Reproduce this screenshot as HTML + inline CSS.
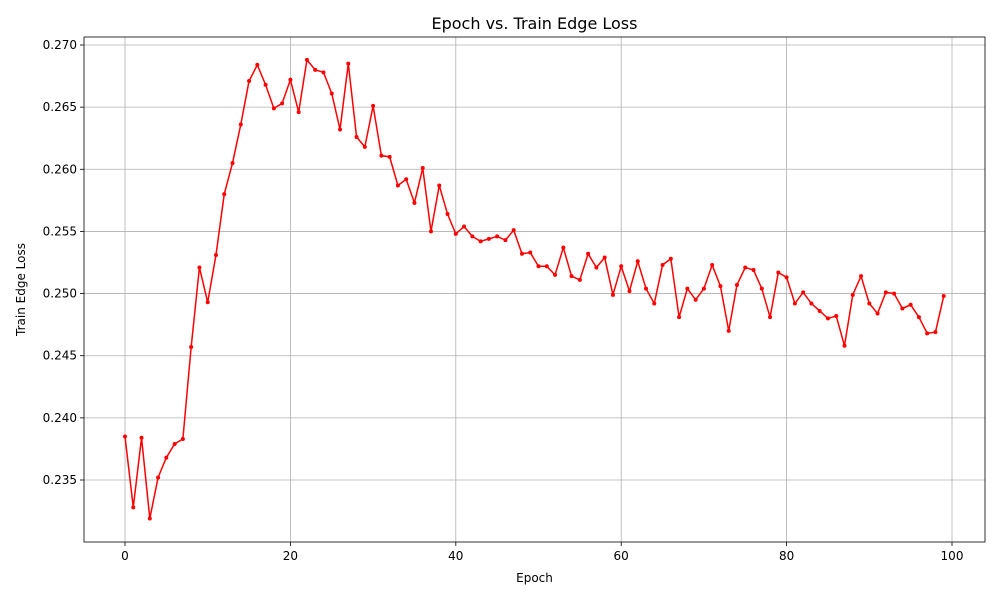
<!DOCTYPE html>
<html><head><meta charset="utf-8">
<style>
body{margin:0;background:#fff;}
svg{display:block;font-family:"DejaVu Sans","Liberation Sans",sans-serif;}
</style></head>
<body>
<svg id="chart" width="1000" height="600"></svg>
<script>
const epochs = Array.from({length:100},(_,i)=>i);
const lossValues = [0.2385,0.2328,0.2384,0.2319,0.2352,0.2368,0.2379,0.2383,0.2457,0.2521,
0.2493,0.2531,0.2580,0.2605,0.2636,0.2671,0.2684,0.2668,0.2649,0.2653,
0.2672,0.2646,0.2688,0.2680,0.2678,0.2661,0.2632,0.2685,0.2626,0.2618,
0.2651,0.2611,0.2610,0.2587,0.2592,0.2573,0.2601,0.2550,0.2587,0.2564,
0.2548,0.2554,0.2546,0.2542,0.2544,0.2546,0.2543,0.2551,0.2532,0.2533,
0.2522,0.2522,0.2515,0.2537,0.2514,0.2511,0.2532,0.2521,0.2529,0.2499,
0.2522,0.2502,0.2526,0.2504,0.2492,0.2523,0.2528,0.2481,0.2504,0.2495,
0.2504,0.2523,0.2506,0.2470,0.2507,0.2521,0.2519,0.2504,0.2481,0.2517,
0.2513,0.2492,0.2501,0.2492,0.2486,0.2480,0.2482,0.2458,0.2499,0.2514,
0.2492,0.2484,0.2501,0.2500,0.2488,0.2491,0.2481,0.2468,0.2469,0.2498];
const xTicks = [0,20,40,60,80,100];
const yTicks = [0.235,0.240,0.245,0.250,0.255,0.260,0.265,0.270];

const NS="http://www.w3.org/2000/svg";
const svg=document.getElementById('chart');
const L=84,R=985,T=37,B=542;
const xs=v=>125+(v-0)*(952-125)/100;
const ys=v=>45+(0.270-v)*(480-45)/0.035;
function mk(tag,attrs,parent){const e=document.createElementNS(NS,tag);for(const k in attrs)e.setAttribute(k,attrs[k]);(parent||svg).appendChild(e);return e;}

const grid=mk('g',{});


xTicks.forEach(t=>{
  const x=xs(t);
  mk('line',{x1:x,x2:x,y1:T,y2:B,stroke:'#b0b0b0','stroke-width':0.8},grid);
  mk('line',{x1:x,x2:x,y1:B,y2:B+4,stroke:'#000','stroke-width':0.8});
  const tx=mk('text',{x:x,y:B+18,'text-anchor':'middle','font-size':12});
  tx.textContent=t;
  
  
});
yTicks.forEach(t=>{
  const y=ys(t);
  mk('line',{x1:L,x2:R,y1:y,y2:y,stroke:'#b0b0b0','stroke-width':0.8},grid);
  mk('line',{x1:L-4,x2:L,y1:y,y2:y,stroke:'#000','stroke-width':0.8});
  const tx=mk('text',{x:L-7,y:y+4,'text-anchor':'end','font-size':12});
  tx.textContent=t.toFixed(3);
  
  
});
const line=mk('polyline',{points:epochs.map((e,i)=>xs(e)+','+ys(lossValues[i])).join(' '),fill:'none',stroke:'#ff0000','stroke-width':1.5});


epochs.forEach((e,i)=>{
  const c=mk('circle',{cx:xs(e),cy:ys(lossValues[i]),r:2,fill:'#ff0000'});
  
  
});
const frame=mk('rect',{x:L,y:T,width:R-L,height:B-T,fill:'none',stroke:'#000','stroke-width':0.8});


const title=mk('text',{x:(L+R)/2,y:29,'text-anchor':'middle','font-size':16});
title.textContent='Epoch vs. Train Edge Loss';


const xl=mk('text',{x:(L+R)/2,y:582,'text-anchor':'middle','font-size':12});
xl.textContent='Epoch';


const yl=mk('text',{x:0,y:0,'text-anchor':'middle','font-size':12,transform:'translate(25,'+((T+B)/2)+') rotate(-90)'});
yl.textContent='Train Edge Loss';


</script>
</body></html>
